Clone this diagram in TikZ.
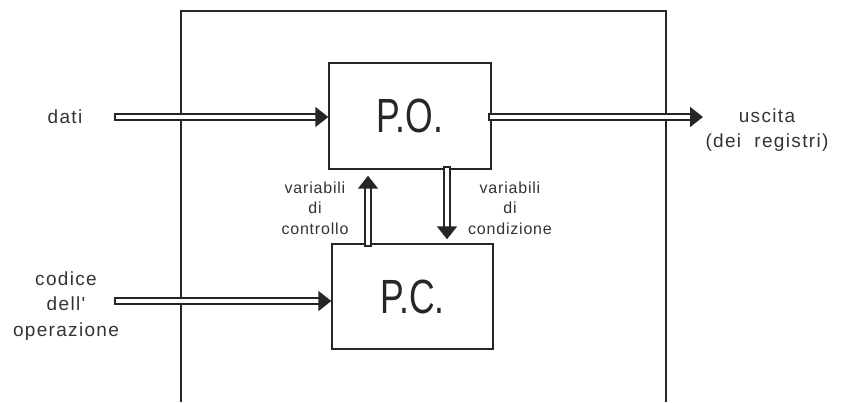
\documentclass[tikz,border=0pt]{standalone}
\usepackage{fontspec}
\setmainfont{Liberation Sans}
\newfontfamily\lblfont[LetterSpace=7]{Liberation Sans}
\newfontfamily\smallfont[LetterSpace=5]{Liberation Sans}
\newfontfamily\bigfont[FakeStretch=0.74]{Liberation Sans}
\usetikzlibrary{arrows.meta,positioning}

\begin{document}
\begin{tikzpicture}[x=1pt,y=-1pt]
\tikzstyle{blk}=[rectangle,draw=black!85,line width=1.4pt,minimum width=162pt,minimum height=106pt,inner sep=0pt,font=\bigfont\fontsize{48}{48}\selectfont,text=black!85]
\tikzstyle{lbl}=[align=center,inner sep=0pt,text=black!80,font=\lblfont\fontsize{19}{25.5}\selectfont]
\tikzstyle{vlbl}=[align=center,inner sep=0pt,text=black!80,font=\smallfont\fontsize{16}{20.5}\selectfont]
\tikzstyle{bus}=[draw=black!85,line width=1.9pt,double=white,double distance=4.2pt,line cap=rect,-{Triangle[length=13pt,width=20pt]}]
\useasboundingbox (0,0) rectangle (844,402);
% frame, open at the bottom
\draw[black!85,line width=1.4pt] (181,402) -- (181,11) -- (666,11) -- (666,402);
% the two blocks
\node[blk] (po) at (410,116) {P.O.};
\node[blk,minimum width=161pt,minimum height=105pt] (pc) at (412.5,296.5) {P.C.};
% labels
\node[lbl] (dati) at (65,117) {dati};
\node[lbl] (codice) at (66,306) {codice\\dell'\\operazione};
\node[lbl] (uscita) at (767,130) {uscita\\(dei\ \ registri)};
\node[vlbl] (vctl) at (315,208) {variabili\\di\\controllo};
\node[vlbl] (vcnd) at (510,208) {variabili\\di\\condizione};
% free ends of the buses
\coordinate (datiin) at (118,117);
\coordinate (codin) at (118,301);
\coordinate (usc) at (703,117);
% buses
\draw[bus] (datiin) -- (po.west |- datiin);
\draw[bus] (codin) -- (pc.west |- codin);
\draw[bus] (po.east |- usc) -- (usc);
\draw[bus,shorten >=6pt] ([xshift=-44.5pt]pc.north) -- ([xshift=-42pt]po.south);
\draw[bus,shorten >=4pt] ([xshift=37pt]po.south) -- ([xshift=34.5pt]pc.north);
\end{tikzpicture}
\end{document}
